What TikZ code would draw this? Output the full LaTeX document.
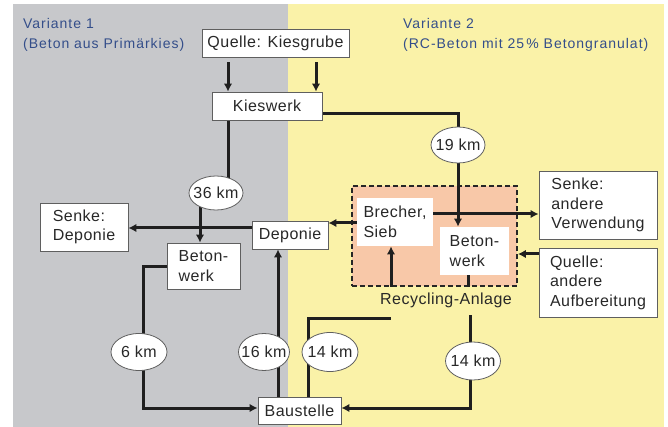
\documentclass[tikz,border=0pt]{standalone}
\usepackage{fontspec}
\setmainfont{Liberation Sans}[LetterSpace=3]
\newfontfamily\titlefont{Liberation Sans}[LetterSpace=7]
\usetikzlibrary{shapes.geometric,arrows.meta}
\definecolor{grau}{RGB}{199,200,203}
\definecolor{gelb}{RGB}{250,242,168}
\definecolor{lachs}{RGB}{248,200,168}
\definecolor{titelblau}{RGB}{52,78,138}
\definecolor{rahmen}{RGB}{95,95,95}
\definecolor{schrift}{RGB}{40,40,40}
\pgfdeclarelayer{back}
\pgfdeclarelayer{lines}
\pgfsetlayers{back,lines,main}

\begin{document}
\begin{tikzpicture}[x=1pt,y=-1pt,
    box/.style={draw=rahmen, line width=0.8pt, fill=white, inner sep=0pt, align=left, text=schrift, font=\fontsize{16}{19.5}\selectfont},
    km/.style={draw=rahmen, line width=0.8pt, fill=white, ellipse, inner xsep=-12pt, inner ysep=0pt, text=schrift, font=\fontsize{16}{19}\selectfont},
    titel/.style={anchor=north west, align=left, inner sep=0pt, text=titelblau, font=\titlefont\fontsize{14}{20.5}\selectfont},
    flow/.style={line width=3pt, draw=black!88},
    arr/.style={flow, -{Latex[length=8pt,width=8.5pt]}}]
            \useasboundingbox (0,0) rectangle (668,427);
            \begin{pgfonlayer}{back}
            \fill[grau] (13,4) rectangle (288,427);
            \fill[gelb] (288,4) rectangle (664,427);
            \node (recycling) at (434.5,236) [draw=black!85, dash pattern=on 5pt off 3pt, line width=1.8pt, fill=lachs, minimum width=165pt, minimum height=100pt] {};
            \end{pgfonlayer}

            \node (v1) at (23,18) [titel] {Variante 1\\(Beton aus Primärkies)};
            \node (v2) at (403,18) [titel] {Variante 2\\(RC-Beton mit 25\,\% Betongranulat)};

            \node (quelle) at (275.5,43) [box, minimum width=147pt, minimum height=28pt] {Quelle: Kiesgrube};
            \node (kieswerk) at (267,106) [box, minimum width=110pt, minimum height=28pt] {Kieswerk};
            \node (senkedep) at (84,227) [box, minimum width=88pt, minimum height=48pt] {Senke:\\Deponie};
            \node (deponie) at (290,235) [box, minimum width=76pt, minimum height=28pt] {Deponie};
            \node (beton1) at (203.5,266) [box, minimum width=73pt, minimum height=46pt] {Beton-\\werk};
            \node (baustelle) at (299.5,410.5) [box, minimum width=83pt, minimum height=27pt] {Baustelle};
            \node (brecher) at (395,222) [box, draw=none, minimum width=76pt, minimum height=48pt] {Brecher,\\Sieb};
            \node (beton2) at (474.5,251) [box, draw=none, minimum width=69pt, minimum height=48pt] {Beton-\\werk};
            \node (senkeverw) at (598,205) [box, minimum width=118pt, minimum height=68pt] {Senke:\\andere\\Verwendung};
            \node (quelleauf) at (598,282.5) [box, minimum width=118pt, minimum height=69pt] {Quelle:\\andere\\Aufbereitung};
            \node (rclabel) at (446,300) [text=schrift, font=\fontsize{16}{19}\selectfont] {Recycling-Anlage};

            \node (km19) at (458,145) [km, minimum width=54pt, minimum height=36pt] {19 km};
            \node (km36) at (216,193) [km, minimum width=54pt, minimum height=34pt] {36 km};
            \node (km6) at (139,352) [km, minimum width=56pt, minimum height=37pt] {6 km};
            \node (km16) at (264,352) [km, minimum width=51pt, minimum height=37pt] {16 km};
            \node (km14a) at (330,352) [km, minimum width=56pt, minimum height=39pt] {14 km};
            \node (km14b) at (473,361) [km, minimum width=55pt, minimum height=38pt] {14 km};

            \coordinate (rcin) at (391,318);
            \coordinate (rcout) at (470,315);

            \begin{pgfonlayer}{lines}
            \draw[arr, shorten <=5pt] (quelle.south -| 228,0) -- (kieswerk.north -| 228,0);
            \draw[arr, shorten <=5pt] (quelle.south -| 316,0) -- (kieswerk.north -| 316,0);
            \draw[flow] (kieswerk.south -| 228,0) -- (km36.center -| 228,0);
            \draw[arr] (km36.center -| 200,0) -- (beton1.north -| 200,0);
            \draw[arr] (deponie.west |- 0,228) -- (senkedep.east |- 0,228);
            \draw[arr] (beton1.west |- 0,266) -| (km6.center -| 143,0) |- (baustelle.west |- 0,408);
            \draw[arr] (baustelle.north -| 278,0) -- (deponie.south -| 278,0);
            \draw[flow] (baustelle.north -| 308,0) |- (rcin);
            \draw[arr] (recycling.south -| rcin) -- (brecher.south -| rcin);
            \draw[flow] (beton2.south -| 468,0) -- (recycling.south -| 468,0);
            \draw[arr] (rcout) |- (baustelle.east |- 0,408);
            \draw[arr] (kieswerk.east |- 0,114) -| (beton2.north -| km19.center);
            \draw[arr] (brecher.east |- 0,214) -- (senkeverw.west |- 0,214);
            \draw[arr] (brecher.west |- 0,223) -- (deponie.east |- 0,223);
            \draw[arr] (quelleauf.west |- 0,254) -- (recycling.east |- 0,254);
            \end{pgfonlayer}
        \end{tikzpicture}
\end{document}
